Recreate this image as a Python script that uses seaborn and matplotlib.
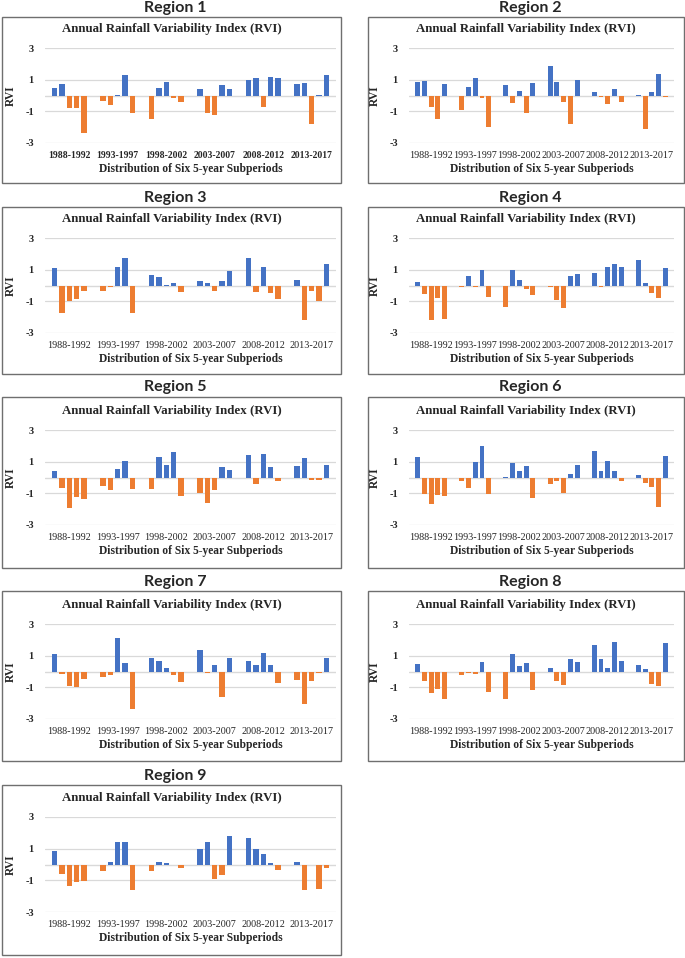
import pandas as pd
import seaborn as sns
import matplotlib.pyplot as plt
from matplotlib.patches import Rectangle

import warnings
warnings.filterwarnings('ignore')

sns.set_style("white")
plt.rcParams['font.family'] = ['Liberation Serif', 'DejaVu Serif']

# --- data: RVI for each year, five years per subperiod ---
subperiods = ["1988-1992", "1993-1997", "1998-2002", "2003-2007", "2008-2012", "2013-2017"]
years_in_period = ["1", "2", "3", "4", "5"]

region1 = [0.50, 0.75, -0.80, -0.80, -2.37,
           -0.32, -0.58, 0.06, 1.27, -1.12,
           -1.48, 0.45, 0.86, -0.13, -0.43,
           0.39, -1.12, -1.23, 0.69, 0.39,
           0.97, 1.12, -0.75, 1.20, 1.12,
           0.73, 0.80, -1.83, 0.06, 1.27]
region2 = [0.84, 0.90, -0.75, -1.46, 0.75,
           -0.90, 0.54, 1.08, -0.13, -2.00,
           0.69, -0.49, 0.28, -1.08, 0.80,
           1.89, 0.84, -0.39, -1.78, 1.01,
           0.24, -0.10, -0.56, 0.39, -0.39,
           0.06, -2.09, 0.19, 1.38, -0.10]
region3 = [1.08, -1.72, -1.00, -0.86, -0.32,
           -0.32, -0.10, 1.14, 1.76, -1.72,
           0.69, 0.54, 0.06, 0.17, -0.43,
           0.28, 0.13, -0.32, 0.28, 0.90,
           1.72, -0.39, 1.20, -0.49, -0.86,
           0.32, -2.15, -0.32, -1.00, 1.35]
region4 = [0.19, -0.54, -2.15, -0.80, -2.10,
           -0.10, 0.58, -0.10, 0.95, -0.71,
           -1.35, 0.99, 0.32, -0.19, -0.60,
           -0.10, -0.90, -1.42, 0.62, 0.73,
           0.77, -0.10, 1.14, 1.35, 1.14,
           1.61, 0.17, -0.49, -0.80, 1.10]
region5 = [0.40, -0.64, -1.90, -1.21, -1.38,
           -0.53, -0.81, 0.55, 1.02, -0.74,
           -0.70, 1.32, 0.81, 1.60, -1.17,
           -0.96, -1.64, -0.81, 0.66, 0.45,
           1.43, -0.43, 1.49, 0.66, -0.23,
           0.70, 1.23, -0.13, -0.17, 0.81]
region6 = [1.28, -1.02, -1.68, -1.10, -1.17,
           -0.23, -0.64, 0.96, 2.00, -1.02,
           0.02, 0.89, 0.43, 0.74, -1.30,
           -0.38, -0.23, -0.96, 0.23, 0.81,
           1.66, 0.38, 1.02, 0.40, -0.23,
           0.13, -0.32, -0.60, -1.85, 1.38]
region7 = [1.10, -0.17, -0.90, -1.01, -0.46,
           -0.32, -0.19, 2.10, 0.53, -2.36,
           0.84, 0.69, 0.19, -0.25, -0.69,
           1.37, -0.08, 0.44, -1.62, 0.84,
           0.65, 0.44, 1.16, 0.44, -0.74,
           -0.53, -2.04, -0.59, -0.08, 0.84]
region8 = [0.48, -0.59, -1.35, -1.10, -1.73,
           -0.19, -0.08, -0.13, 0.59, -1.31,
           -1.73, 1.10, 0.34, 0.55, -1.16,
           0.23, -0.59, -0.84, 0.80, 0.59,
           1.66, 0.76, 0.19, 1.89, 0.65,
           0.38, 0.15, -0.78, -0.90, 1.83]
region9 = [0.84, -0.63, -1.37, -1.09, -1.05,
           -0.42, 0.13, 1.41, 1.41, -1.62,
           -0.38, 0.17, 0.08, -0.06, -0.23,
           1.01, 1.41, -0.91, -0.69, 1.83,
           1.68, 0.99, 0.65, 0.08, -0.34,
           0.17, -1.62, -0.04, -1.52, -0.23]

regions = [region1, region2, region3, region4, region5, region6, region7, region8, region9]

BLUE = "#4472C4"
ORANGE = "#ED7D31"
GRID = "#D9D9D9"

W, H = 685, 958
fig = plt.figure(figsize=(W / 100, H / 100), dpi=100)

# layout in pixels (top-down)
box_left = [2, 368]
box_width = [339, 316]
ax_left = [45, 409]
ax_right = [336, 674]
box_top = [17, 207, 397, 591, 785]
box_bottom = [183, 374, 568, 761, 955]
grid_top = [48, 238, 430, 624, 817]
title_y = [8, 198, 387, 582, 776]
ax_h = 95


def fx(px):
    return px / W


def fy(py):
    return 1 - py / H


for i, vals in enumerate(regions):
    row, col = divmod(i, 2)

    df = pd.DataFrame({
        "period": [p for p in subperiods for _ in years_in_period],
        "slot": years_in_period * len(subperiods),
        "rvi": vals,
    })

    # frame of the chart
    fig.add_artist(Rectangle((fx(box_left[col]), fy(box_bottom[row])),
                             box_width[col] / W, (box_bottom[row] - box_top[row]) / H,
                             transform=fig.transFigure, fill=False,
                             edgecolor="#6f6f6f", linewidth=1.0))
    cx = box_left[col] + box_width[col] / 2
    fig.text(fx(cx + 4), fy(title_y[row]), f"Region {i + 1}", ha="center", va="center",
             fontsize=11.5, fontweight="bold", family=["Lato", "DejaVu Sans"])
    fig.text(fx(cx), fy(grid_top[row] - 19), "Annual Rainfall Variability Index (RVI)",
             ha="center", va="center", fontsize=9.3, fontweight="bold")

    ax = fig.add_axes([fx(ax_left[col]), fy(grid_top[row] + ax_h),
                       (ax_right[col] - ax_left[col]) / W, ax_h / H])
    sns.barplot(df, x="period", y="rvi", hue="slot", hue_order=years_in_period,
                palette=[BLUE] * 5, width=0.765, gap=0.28, errorbar=None,
                legend=False, linewidth=0, ax=ax, zorder=3)
    for bar in ax.patches:
        bar.set_facecolor(BLUE if bar.get_height() >= 0 else ORANGE)

    ax.set_ylim(-3, 3)
    ax.set_yticks([-3, -1, 1, 3])
    ax.set_yticklabels(["-3", "-1", "1", "3"], fontsize=7.5, fontweight="bold")
    ax.grid(axis="y", color=GRID, linewidth=0.9, zorder=0)
    ax.axhline(0, color=GRID, linewidth=1.0, zorder=1)
    ax.tick_params(length=0, pad=8)
    ax.tick_params(axis="x", pad=6)
    # first panel uses bold tick labels, the rest regular
    for t in ax.get_xticklabels():
        if i == 0:
            t.set_fontsize(6.9)
            t.set_fontweight("bold")
        else:
            t.set_fontsize(7.3)
    for s in ax.spines.values():
        s.set_visible(False)
    ax.set_xlabel("Distribution of Six 5-year Subperiods", fontsize=8.3,
                  fontweight="bold", labelpad=2)
    ax.set_ylabel("RVI", fontsize=8.3, fontweight="bold", labelpad=6)

fig.savefig("out.png", dpi=100)
